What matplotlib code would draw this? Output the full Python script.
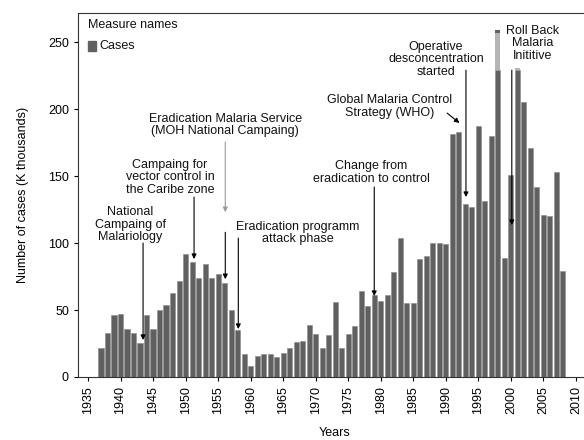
import matplotlib
matplotlib.use('Agg')
import matplotlib.pyplot as plt
from matplotlib.patches import Rectangle

plt.rcParams['font.family'] = ['Liberation Sans', 'DejaVu Sans']

years = list(range(1937, 2009))
cases = [22, 33, 46, 47, 36, 33, 25, 46, 36, 50,
         54, 63, 72, 92, 86, 74, 84, 74, 77, 70,
         50, 35, 17, 8, 16, 17, 17, 15, 18, 22,
         26, 27, 39, 32, 22, 31, 56, 22, 32, 38,
         64, 53, 61, 57, 61, 78, 104, 55, 55, 88,
         90, 100, 100, 99, 181, 183, 129, 127, 187, 131,
         180, 229, 89, 151, 229, 205, 171, 142, 121, 120,
         153, 79]

# light grey top part on a couple of bars
extra_years = [1998, 2001]
extra_vals = [28, 2]

# (text, text x, text y, arrow tail, arrow tip, arrow colour)
notes = [
    ('National\nCampaing of\nMalariology', 1941.5, 113.8, (1943.46, 100), (1943.46, 27.6), 'black'),
    ('Campaing for\nvector control in\nthe Caribe zone', 1947.6, 149, (1951.3, 134.3), (1951.3, 88), 'black'),
    ('Eradication Malaria Service\n(MOH National Campaing)', 1956.1, 188, (1956.1, 175.4), (1956.1, 123), '#9a9a9a'),
    ('Eradication programm\nattack phase', 1967.2, 107.5, (1958.1, 103.7), (1958.1, 35.8), 'black'),
    ('Change from\neradication to control', 1978.5, 152.6, (1979.0, 141.8), (1979.0, 60.4), 'black'),
    ('Global Malaria Control\nStrategy (WHO)', 1981.3, 202, (1990.2, 197), (1992.1, 189.6), 'black'),
    ('Operative\ndesconcentration\nstarted', 1988.5, 237, (1993.1, 229), (1993.1, 134.3), 'black'),
    ('Roll Back\nMalaria\nInititive', 2003.3, 249, (2000.15, 229), (2000.15, 113.4), 'black'),
]

bar_color = '#606060'

fig = plt.figure(figsize=(5.84, 4.40), dpi=100)
ax = fig.add_axes([0.1336, 0.1432, 0.877, 0.827])

ax.bar(years, cases, width=0.8, color=bar_color, edgecolor='#8a8a8a', linewidth=0.4)
base = [cases[years.index(y)] for y in extra_years]
ax.bar(extra_years, extra_vals, bottom=base, width=0.8, color='#b4b4b4', linewidth=0)
ax.bar([1998], [2], bottom=[257], width=0.8, color=bar_color, linewidth=0)

for txt, tx, ty, tail, tip, col in notes:
    ax.text(tx, ty, txt, ha='center', va='center', fontsize=9, linespacing=1.05, color='#111111')
    ax.annotate('', xy=tip, xytext=tail,
                arrowprops=dict(arrowstyle='-|>', color=col, lw=0.8,
                                mutation_scale=7, shrinkA=0, shrinkB=0))

# lower dark part of the MOH arrow
ax.annotate('', xy=(1956.1, 73), xytext=(1956.1, 108),
            arrowprops=dict(arrowstyle='-|>', color='black', lw=0.8,
                            mutation_scale=7, shrinkA=0, shrinkB=0))

# legend
ax.text(0.0195, 0.967, 'Measure names', transform=ax.transAxes, fontsize=9,
        ha='left', va='center', color='#111111')
ax.add_patch(Rectangle((0.0195, 0.897), 0.015, 0.026, transform=ax.transAxes,
                       color=bar_color, clip_on=False))
ax.text(0.041, 0.909, 'Cases', transform=ax.transAxes, fontsize=9,
        ha='left', va='center', color='#111111')

ax.set_xlim(1933.46, 2012.2)
ax.set_ylim(0, 271.6)
ax.set_xticks(range(1935, 2011, 5))
ax.set_xticklabels([str(y) for y in range(1935, 2011, 5)], rotation=90, fontsize=9)
ax.set_yticks(range(0, 251, 50))
ax.tick_params(axis='y', labelsize=9, length=3, direction='out')
ax.tick_params(axis='x', length=3, direction='out')
ax.spines['right'].set_visible(False)
for s in ['left', 'top', 'bottom']:
    ax.spines[s].set_color('#333333')

ax.set_xlabel('Years', fontsize=9)
ax.xaxis.set_label_coords(0.5, -0.137)
ax.set_ylabel('Number of cases (K thousands)', fontsize=9, labelpad=14)

plt.savefig('out.png', dpi=100)
